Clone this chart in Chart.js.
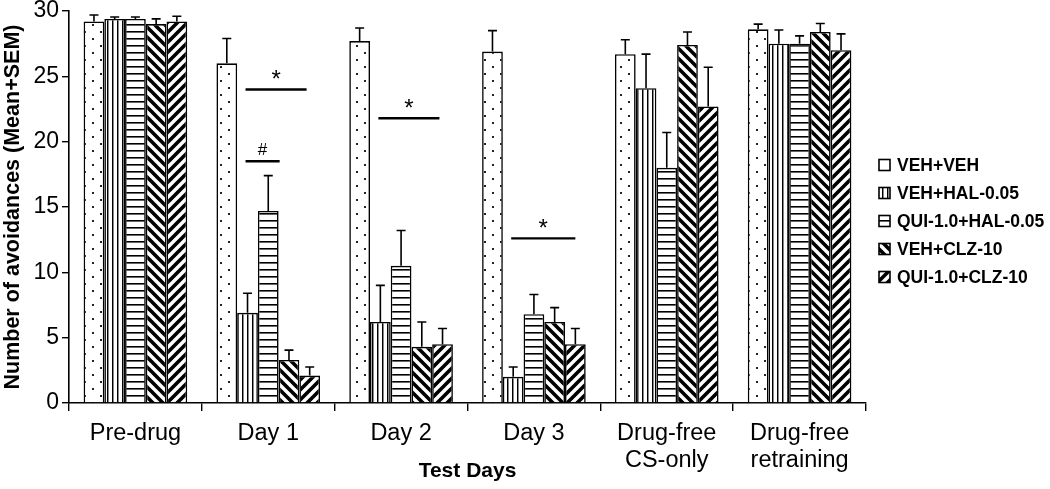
<!DOCTYPE html>
<html>
<head>
<meta charset="utf-8">
<script src="https://cdn.jsdelivr.net/npm/chart.js@4.4.1/dist/chart.umd.min.js"></script>
<style>
  html, body { margin: 0; padding: 0; background: #fff; }
  #wrap { width: 1050px; height: 489px; position: relative; }
</style>
</head>
<body>
<div id="wrap"><canvas id="c" width="1050" height="489"></canvas></div>
<script>
// ---------------- data ----------------
const categories = ['Pre-drug', 'Day 1', 'Day 2', 'Day 3', ['Drug-free', 'CS-only'], ['Drug-free', 'retraining']];
const seriesNames = ['VEH+VEH', 'VEH+HAL-0.05', 'QUI-1.0+HAL-0.05', 'VEH+CLZ-10', 'QUI-1.0+CLZ-10'];

const vehVeh     = [29.2, 26.0, 27.7, 26.9, 26.7, 28.6];
const vehVehSem  = [0.5, 1.9, 1.0, 1.6, 1.1, 0.4];
const vehHal     = [29.4, 6.9, 6.2, 2.0, 24.1, 27.5];
const vehHalSem  = [0.15, 1.5, 2.8, 0.75, 2.6, 1.05];
const quiHal     = [29.4, 14.7, 10.5, 6.8, 18.0, 27.5];
const quiHalSem  = [0.15, 2.7, 2.7, 1.5, 2.7, 0.6];
const vehClz     = [29.0, 3.3, 4.3, 6.2, 27.4, 28.4];
const vehClzSem  = [0.4, 0.75, 1.9, 1.1, 1.0, 0.65];
const quiClz     = [29.2, 2.1, 4.5, 4.5, 22.7, 27.0];
const quiClzSem  = [0.4, 0.65, 1.2, 1.2, 3.0, 1.25];

const yTicks = [0, 5, 10, 15, 20, 25, 30];

// significance marks: category index, from series, to series (fractional), y value, label
const sigCategory = [1, 1, 2, 3];
const sigFrom     = [1, 1, 1, 1];
const sigTo       = [3.85, 2.55, 3.85, 4];
const sigLevel    = [24.0, 18.5, 21.8, 12.6];
const sigLabel    = ['*', '#', '*', '*'];

const yTitle = 'Number of avoidances (Mean+SEM)';
const xTitle = 'Test Days';

// ---------------- patterns ----------------
function tile(w, h, draw) {
  const c = document.createElement('canvas');
  c.width = w; c.height = h;
  const g = c.getContext('2d');
  g.fillStyle = '#fff'; g.fillRect(0, 0, w, h);
  draw(g, w, h);
  return c;
}
const ctx0 = document.getElementById('c').getContext('2d');
const patDots = ctx0.createPattern(tile(16, 14, (g) => {
  g.fillStyle = '#222';
  g.fillRect(4, 3, 2, 2);
  g.fillRect(12, 10, 2, 2);
}), 'repeat');
const patVert = ctx0.createPattern(tile(5, 5, (g) => {
  g.fillStyle = '#000'; g.fillRect(2, 0, 1, 5);
  g.fillStyle = '#888'; g.fillRect(3, 0, 1, 5);
}), 'repeat');
const patHorz = ctx0.createPattern(tile(6, 7, (g) => {
  g.fillStyle = '#000'; g.fillRect(0, 3, 6, 1);
  g.fillStyle = '#666'; g.fillRect(0, 4, 6, 1);
}), 'repeat');
function diag(dir) {
  return ctx0.createPattern(tile(10, 10, (g, w, h) => {
    g.strokeStyle = '#000'; g.lineWidth = 3.6; g.lineCap = 'square';
    g.beginPath();
    for (let k = -w; k <= w; k += w) {
      if (dir > 0) { g.moveTo(k, 0); g.lineTo(k + w, h); }
      else { g.moveTo(k, h); g.lineTo(k + w, 0); }
    }
    g.stroke();
  }), 'repeat');
}
const patBack = diag(1);   // "\"
const patFwd = diag(-1);   // "/"

const values = [vehVeh, vehHal, quiHal, vehClz, quiClz];
const sems = [vehVehSem, vehHalSem, quiHalSem, vehClzSem, quiClzSem];
const fills = [patDots, patVert, patHorz, patBack, patFwd];

const FONT = "'Liberation Sans', Arial, Helvetica, sans-serif";

// ---------------- plugins ----------------
const extras = {
  id: 'extras',
  afterDatasetsDraw(chart) {
    const ctx = chart.ctx;
    const y = chart.scales.y;
    ctx.save();
    ctx.strokeStyle = '#000';
    ctx.lineWidth = 1.6;
    values.forEach((vals, di) => {
      const meta = chart.getDatasetMeta(di);
      meta.data.forEach((bar, i) => {
        const top = y.getPixelForValue(vals[i]);
        const end = y.getPixelForValue(vals[i] + sems[di][i]);
        ctx.beginPath();
        ctx.moveTo(bar.x, top);
        ctx.lineTo(bar.x, end);
        ctx.moveTo(bar.x - 4.5, end);
        ctx.lineTo(bar.x + 4.5, end);
        ctx.stroke();
      });
    });
    ctx.lineWidth = 2.4;
    sigCategory.forEach((ci, k) => {
      const xAt = (s) => {
        const a = Math.floor(s), f = s - a;
        const b = Math.min(a + 1, values.length - 1);
        const xa = chart.getDatasetMeta(a).data[ci].x;
        const xb = chart.getDatasetMeta(b).data[ci].x;
        return xa + (xb - xa) * f;
      };
      const x1 = xAt(sigFrom[k]) - 2, x2 = xAt(sigTo[k]);
      const py = y.getPixelForValue(sigLevel[k]);
      ctx.beginPath();
      ctx.moveTo(x1, py); ctx.lineTo(x2, py); ctx.stroke();
      ctx.fillStyle = '#000';
      ctx.textAlign = 'center';
      ctx.textBaseline = 'alphabetic';
      if (sigLabel[k] === '*') {
        ctx.font = '24px ' + FONT;
        ctx.fillText('*', (x1 + x2) / 2, py - 2);
      } else {
        ctx.font = '17px ' + FONT;
        ctx.fillText(sigLabel[k], (x1 + x2) / 2, py - 6);
      }
    });
    ctx.restore();
  },
  afterDraw(chart) {
    const ctx = chart.ctx;
    const area = chart.chartArea;
    ctx.save();
    ctx.fillStyle = '#000';
    ctx.font = 'bold 21px ' + FONT;
    ctx.textAlign = 'center';
    ctx.textBaseline = 'middle';
    ctx.fillText(xTitle, (area.left + area.right) / 2, 471);
    const lx = 879, ly0 = 165, step = 28, box = 11;
    ctx.font = 'bold 17.5px ' + FONT;
    ctx.textAlign = 'left';
    seriesNames.forEach((name, i) => {
      const cy = ly0 + i * step;
      ctx.fillStyle = fills[i];
      ctx.fillRect(lx, cy - box / 2, box, box);
      ctx.strokeStyle = '#000'; ctx.lineWidth = 1.6;
      ctx.strokeRect(lx, cy - box / 2, box, box);
      ctx.fillStyle = '#000';
      ctx.fillText(name, lx + 18, cy + 1);
    });
    ctx.restore();
  }
};

new Chart(document.getElementById('c'), {
  type: 'bar',
  data: {
    labels: categories,
    datasets: seriesNames.map((name, i) => ({
      label: name,
      data: values[i],
      backgroundColor: fills[i],
      borderColor: '#000',
      borderWidth: 1.6,
      categoryPercentage: 0.78,
      barPercentage: 1.0
    }))
  },
  options: {
    responsive: false,
    animation: false,
    devicePixelRatio: 1,
    layout: { padding: { left: 0, right: 184, top: 8, bottom: 0 } },
    plugins: { legend: { display: false }, tooltip: { enabled: false } },
    scales: {
      x: {
        grid: { display: true, drawOnChartArea: false, offset: true, color: '#000', lineWidth: 1.4, tickLength: 8 },
        border: { display: true, color: '#000', width: 1.6 },
        ticks: { color: '#000', font: { family: FONT, size: 23.5, lineHeight: 1.15 }, padding: 9, maxRotation: 0, autoSkip: false },
        afterFit: (s) => { s.height = 86; }
      },
      y: {
        min: 0, max: 30,
        afterBuildTicks: (s) => { s.ticks = yTicks.map(v => ({ value: v })); },
        grid: { display: true, drawOnChartArea: false, color: '#000', lineWidth: 1.4, tickLength: 7 },
        border: { display: true, color: '#000', width: 1.6 },
        ticks: { color: '#000', font: { family: FONT, size: 23, lineHeight: 0.7 }, padding: 3 },
        title: { display: true, text: yTitle, color: '#000', font: { family: FONT, size: 21.5, weight: 'bold', lineHeight: 1.15 }, padding: { top: 1, bottom: 0 } },
        afterFit: (s) => { s.width = 69; }
      }
    }
  },
  plugins: [extras]
});
</script>
</body>
</html>
